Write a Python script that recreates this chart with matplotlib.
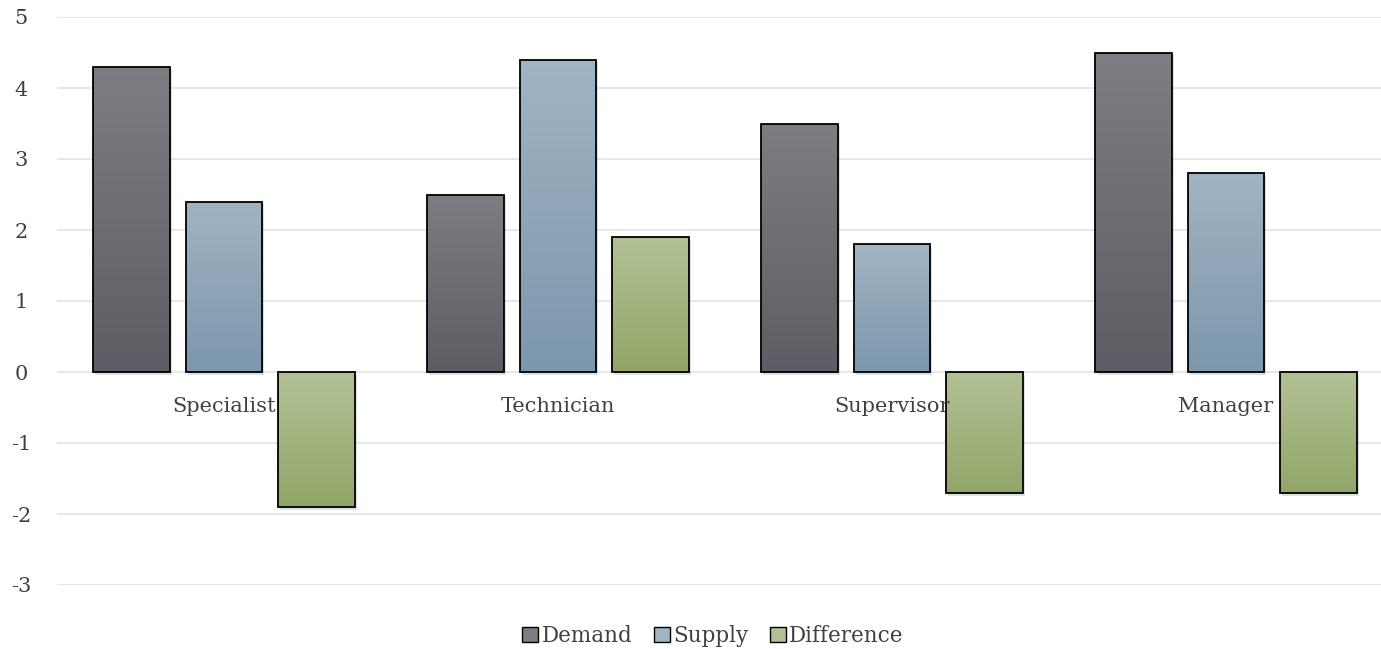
import numpy as np
import matplotlib.pyplot as plt
from matplotlib.colors import LinearSegmentedColormap
from matplotlib.patches import Patch

categories = ["Specialist", "Technician", "Supervisor", "Manager"]
demand = [4.3, 2.5, 3.5, 4.5]
supply = [2.4, 4.4, 1.8, 2.8]
difference = [-1.9, 1.9, -1.7, -1.7]

series = [("Demand", demand, "#7e7d83", "#5e5d65"),
          ("Supply", supply, "#a0b4c3", "#7d97ad"),
          ("Difference", difference, "#b2c195", "#92a669")]

plt.rcParams['font.family'] = ['DejaVu Serif']
fig = plt.figure(figsize=(13.81, 6.49), dpi=100)
ax = fig.add_axes([57 / 1381, 64 / 649, 1324 / 1381, 568 / 649])

x = np.arange(len(categories))
width = 0.2305
pitch = 0.2784

for i, (name, vals, top, bottom) in enumerate(series):
    cmap = LinearSegmentedColormap.from_list(name, [bottom, top])
    grad = np.linspace(0, 1, 256).reshape(-1, 1)
    offs = (i - 1) * pitch
    bars = ax.bar(x + offs, vals, width, color="none", edgecolor="black",
                  linewidth=1.3, zorder=3)
    for b in bars:
        x0, y0 = b.get_x(), b.get_y()
        w, h = b.get_width(), b.get_height()
        lo, hi = min(y0, y0 + h), max(y0, y0 + h)
        # faint drop shadow
        ax.bar(x0 + w / 2 + 0.006, hi - lo, w, bottom=lo - 0.04,
               color="#000000", alpha=0.12, zorder=1, linewidth=0)
        im = ax.imshow(grad, cmap=cmap, origin="lower", aspect="auto",
                       extent=[x0, x0 + w, lo, hi], zorder=2)
        im.set_clip_path(b)

ax.set_xlim(-0.5, -0.5 + 1324 / 334)
ax.set_ylim(-3, 5)
ax.set_yticks(range(-3, 6))
ax.set_yticklabels([str(v) for v in range(-3, 6)])
ax.set_xticks([])
ax.grid(axis="y", color="#e3e3e3", linewidth=1.2, zorder=0)
ax.set_axisbelow(True)
for s in ax.spines.values():
    s.set_visible(False)
ax.tick_params(axis="y", length=0, pad=26, labelsize=15, labelcolor="#404040")
for lbl in ax.get_yticklabels():
    lbl.set_horizontalalignment("center")

for xi, c in zip(x, categories):
    ax.text(xi, -0.48, c, ha="center", va="center", fontsize=15,
            color="#404040", zorder=4)

handles = [Patch(facecolor=t, edgecolor="black", label=n)
           for n, _, t, _b in series]
fig.legend(handles=handles, loc="center", bbox_to_anchor=(713 / 1381, 13 / 649),
           ncol=3, frameon=False, fontsize=15.5, handlelength=0.75,
           handleheight=0.75, handletextpad=0.15, columnspacing=1.0,
           labelcolor="#404040")

fig.savefig("out.png", dpi=100)
